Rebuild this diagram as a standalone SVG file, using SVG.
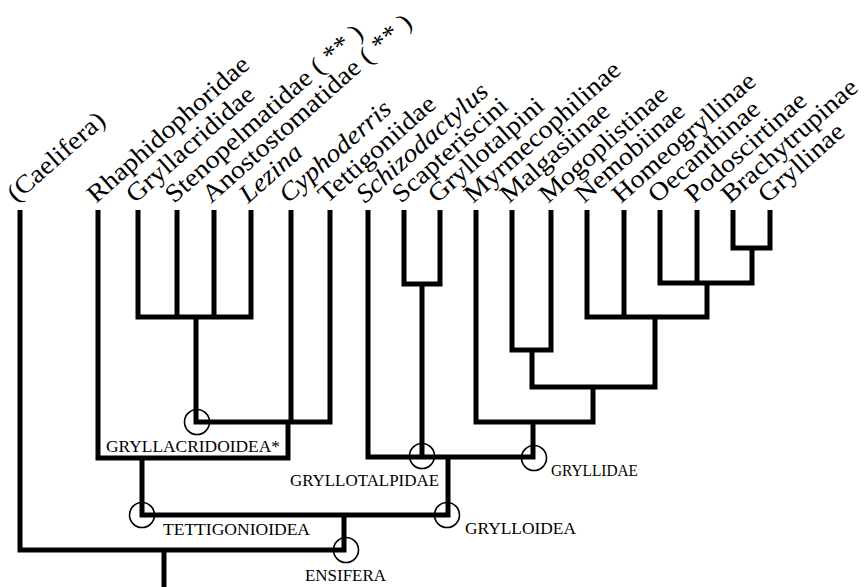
<svg xmlns="http://www.w3.org/2000/svg" width="866" height="587" viewBox="0 0 866 587">
  <style>
    .br { fill: none; stroke: #000; stroke-width: 5; stroke-linejoin: miter; stroke-linecap: butt; }
    .nd { fill: none; stroke: #000; stroke-width: 1.6; }
    .tx { font-family: "Liberation Serif", serif; font-size: 25.5px; fill: #000; }
    .it { font-style: italic; }
    .cl { font-family: "Liberation Serif", serif; font-size: 16px; fill: #000; }
  </style>
  <rect width="866" height="587" fill="#fff"/>

  <!-- branches of the tree -->
  <g id="connectors">
    <path class="br" d="M138 210 V317 H251 V210"/>
    <path class="br" d="M177 210 V317 M214 210 V317"/>
    <path class="br" d="M196 317 V422 H330 V210"/>
    <path class="br" d="M291 210 V422"/>
    <path class="br" d="M98 210 V458 H288 V422"/>
    <path class="br" d="M404 210 V284 H440 V210"/>
    <path class="br" d="M512 210 V350 H551 V210"/>
    <path class="br" d="M733 210 V248 H770 V210"/>
    <path class="br" d="M660 210 V283 H752 V248"/>
    <path class="br" d="M697 210 V283"/>
    <path class="br" d="M587 210 V317 H707 V283"/>
    <path class="br" d="M624 210 V317"/>
    <path class="br" d="M532 350 V387 H655 V317"/>
    <path class="br" d="M476 210 V422 H593 V387"/>
    <path class="br" d="M368 210 V457 H533 V422"/>
    <path class="br" d="M422 284 V457"/>
    <path class="br" d="M142 458 V515 H448 V457"/>
    <path class="br" d="M20 210 V550 H344 V515"/>
    <path class="br" d="M164 550 V587"/>
  </g>

  <!-- terminal taxa -->
  <g id="caelifera"><text class="tx" transform="translate(16 203) rotate(-41.5) scale(1.1 1)">(Caelifera)</text></g>
  <g id="rhaphidophoridae"><text class="tx" transform="translate(96 204) rotate(-41.5) scale(1.1 1)">Rhaphidophoridae</text></g>
  <g id="gryllacrididae"><text class="tx" transform="translate(135 204) rotate(-41.5) scale(1.1 1)">Gryllacrididae</text></g>
  <g id="stenopelmatidae"><text class="tx" transform="translate(174 204) rotate(-41.5) scale(1.1 1)">Stenopelmatidae ( ** )</text></g>
  <g id="anostostomatidae"><text class="tx" transform="translate(211 204) rotate(-41.5) scale(1.1 1)">Anostostomatidae ( ** )</text></g>
  <g id="lezina"><text class="tx it" transform="translate(248 204) rotate(-41.5) scale(1.1 1)">Lezina</text></g>
  <g id="cyphoderris"><text class="tx it" transform="translate(288 204) rotate(-41.5) scale(1.1 1)">Cyphoderris</text></g>
  <g id="tettigoniidae"><text class="tx" transform="translate(327 204) rotate(-41.5) scale(1.1 1)">Tettigoniidae</text></g>
  <g id="schizodactylus"><text class="tx it" transform="translate(365 204) rotate(-41.5) scale(1.1 1)">Schizodactylus</text></g>
  <g id="scapteriscini"><text class="tx" transform="translate(401 204) rotate(-41.5) scale(1.1 1)">Scapteriscini</text></g>
  <g id="gryllotalpini"><text class="tx" transform="translate(437 204) rotate(-41.5) scale(1.1 1)">Gryllotalpini</text></g>
  <g id="myrmecophilinae"><text class="tx" transform="translate(473 204) rotate(-41.5) scale(1.1 1)">Myrmecophilinae</text></g>
  <g id="malgasiinae"><text class="tx" transform="translate(509 204) rotate(-41.5) scale(1.1 1)">Malgasiinae</text></g>
  <g id="mogoplistinae"><text class="tx" transform="translate(548 204) rotate(-41.5) scale(1.1 1)">Mogoplistinae</text></g>
  <g id="nemobiinae"><text class="tx" transform="translate(584 204) rotate(-41.5) scale(1.1 1)">Nemobiinae</text></g>
  <g id="homeogryllinae"><text class="tx" transform="translate(621 204) rotate(-41.5) scale(1.1 1)">Homeogryllinae</text></g>
  <g id="oecanthinae"><text class="tx" transform="translate(657 204) rotate(-41.5) scale(1.1 1)">Oecanthinae</text></g>
  <g id="podoscirtinae"><text class="tx" transform="translate(694 204) rotate(-41.5) scale(1.1 1)">Podoscirtinae</text></g>
  <g id="brachytrupinae"><text class="tx" transform="translate(730 204) rotate(-41.5) scale(1.1 1)">Brachytrupinae</text></g>
  <g id="gryllinae"><text class="tx" transform="translate(767 204) rotate(-41.5) scale(1.1 1)">Gryllinae</text></g>

  <!-- named clades -->
  <g id="gryllacridoidea">
    <circle class="nd" cx="197" cy="422" r="12.5"/>
    <text class="cl" x="106" y="452" textLength="174" lengthAdjust="spacingAndGlyphs">GRYLLACRIDOIDEA*</text>
  </g>
  <g id="tettigonioidea">
    <circle class="nd" cx="142" cy="515" r="12.5"/>
    <text class="cl" x="163" y="535" textLength="147" lengthAdjust="spacingAndGlyphs">TETTIGONIOIDEA</text>
  </g>
  <g id="gryllotalpidae">
    <circle class="nd" cx="422" cy="456" r="12.5"/>
    <text class="cl" x="290" y="486" textLength="149" lengthAdjust="spacingAndGlyphs">GRYLLOTALPIDAE</text>
  </g>
  <g id="gryllidae">
    <circle class="nd" cx="534" cy="458" r="12.5"/>
    <text class="cl" x="551" y="476" textLength="87" lengthAdjust="spacingAndGlyphs">GRYLLIDAE</text>
  </g>
  <g id="grylloidea">
    <circle class="nd" cx="447" cy="515" r="12.5"/>
    <text class="cl" x="465" y="534" textLength="111" lengthAdjust="spacingAndGlyphs">GRYLLOIDEA</text>
  </g>
  <g id="ensifera">
    <circle class="nd" cx="346" cy="550" r="12.5"/>
    <text class="cl" x="305" y="581" textLength="81" lengthAdjust="spacingAndGlyphs">ENSIFERA</text>
  </g>
</svg>
